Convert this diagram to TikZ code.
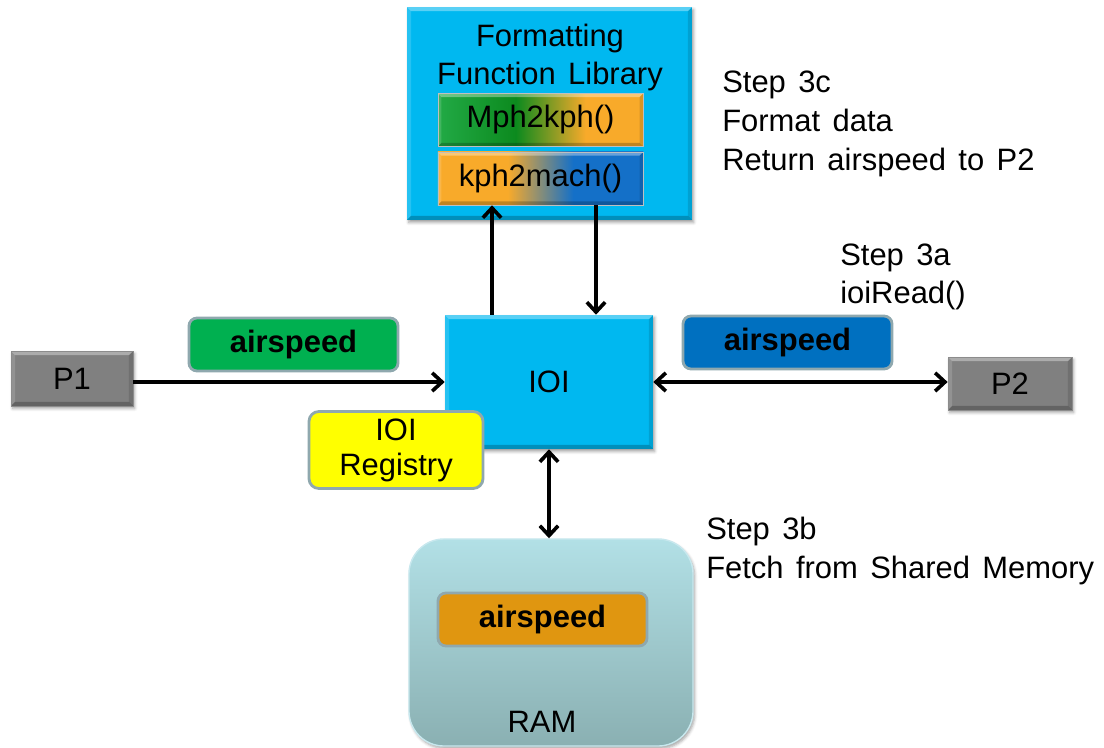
\documentclass[tikz,border=0pt]{standalone}
\usepackage{fontspec}
\setmainfont{Liberation Sans}
\usetikzlibrary{arrows.meta,shadows.blur}

% palette
\definecolor{boxcyan}{RGB}{0,184,240}
\definecolor{boxgray}{RGB}{128,128,128}
\definecolor{taggreen}{RGB}{0,176,80}
\definecolor{tagblue}{RGB}{0,112,192}
\definecolor{tagorange}{RGB}{224,150,16}
\definecolor{regyellow}{RGB}{255,255,0}
\definecolor{tagrim}{RGB}{143,168,174}
\definecolor{ramtop}{RGB}{178,224,230}
\definecolor{rambottom}{RGB}{138,176,178}
\definecolor{ramrim}{RGB}{200,232,238}
\definecolor{mphA}{RGB}{34,170,70}
\definecolor{mphB}{RGB}{12,138,30}
\definecolor{mphC}{RGB}{248,170,42}
\definecolor{kphB}{RGB}{20,112,200}

% left-to-right blends for the two function boxes
\pgfdeclarehorizontalshading{mphshade}{100bp}{color(0bp)=(mphA); color(25bp)=(mphA); color(44bp)=(mphB); color(61bp)=(mphC); color(100bp)=(mphC)}
\pgfdeclarehorizontalshading{kphshade}{100bp}{color(0bp)=(mphC); color(25bp)=(mphC); color(42bp)=(mphC); color(58bp)=(kphB); color(100bp)=(kphB)}

\newcommand\diagfont{\fontsize{22}{27.5}\selectfont\spaceskip=0.4em\relax}

\tikzset{
  bevel/.style={path picture={
    \fill[white,opacity=.35] (path picture bounding box.north west) -- (path picture bounding box.north east)
      -- ([shift={(-#1,-#1)}]path picture bounding box.north east) -- ([shift={(#1,-#1)}]path picture bounding box.north west) -- cycle;
    \fill[white,opacity=.15] (path picture bounding box.north west) -- (path picture bounding box.south west)
      -- ([shift={(#1,#1)}]path picture bounding box.south west) -- ([shift={(#1,-#1)}]path picture bounding box.north west) -- cycle;
    \fill[black,opacity=.22] (path picture bounding box.south west) -- (path picture bounding box.south east)
      -- ([shift={(-#1,#1)}]path picture bounding box.south east) -- ([shift={(#1,#1)}]path picture bounding box.south west) -- cycle;
    \fill[black,opacity=.12] (path picture bounding box.north east) -- (path picture bounding box.south east)
      -- ([shift={(-#1,#1)}]path picture bounding box.south east) -- ([shift={(-#1,-#1)}]path picture bounding box.north east) -- cycle;
  }},
  bevel/.default=3pt,
  softshadow/.style={blur shadow={shadow xshift=1.2pt, shadow yshift=-1.8pt, shadow blur radius=2pt, shadow opacity=35}},
  block/.style={fill=boxcyan, bevel, softshadow, inner sep=0pt, align=center},
  procbox/.style={fill=boxgray, draw=black!45, line width=.5pt, bevel, softshadow, inner sep=0pt},
  funcbox/.style={bevel=2.5pt, draw=black!25, line width=.4pt, minimum width=5.125cm, minimum height=1.325cm, inner sep=0pt},
  tag/.style={draw=tagrim, line width=2pt, rounded corners=0.2cm, minimum width=5.225cm, minimum height=1.325cm,
              inner sep=0pt, font=\diagfont\bfseries},
  conn/.style={line width=2.6pt, -{Straight Barb[length=7pt,width=13pt]}},
  biconn/.style={line width=2.6pt, {Straight Barb[length=7pt,width=13pt]}-{Straight Barb[length=7pt,width=13pt]}},
  note/.style={align=left, anchor=west, inner sep=0pt}
}

\begin{document}
\begin{tikzpicture}[x=0.025cm, y=-0.025cm, font=\diagfont]
\useasboundingbox (0,0) rectangle (1104,748);
\clip (0,0) rectangle (1104,748);

% function library with its two conversion routines
\node[block, minimum width=7.125cm, minimum height=5.325cm] (lib) at (549.5,113.5) {};
\node[inner sep=0pt, align=center] (libtitle) at (550,57.5) {Formatting\\Function Library};
\node[funcbox, shading=mphshade] (mph) at (540.5,120) {Mph2kph()};
\node[funcbox, shading=kphshade] (kph) at (540.5,178.5) {kph2mach()};

% interface object and processes
\node[block, minimum width=5.2cm, minimum height=3.35cm] (ioi) at (549,382) {IOI};
\node[procbox, minimum width=3.05cm, minimum height=1.375cm] (p1) at (72,378.5) {P1};
\node[procbox, minimum width=3.1cm, minimum height=1.325cm] (p2) at (1010,383.5) {P2};

% data tags
\node[tag, fill=taggreen] (asg) at (293.5,344.5) {airspeed};
\node[tag, fill=tagblue] (asb) at (787.5,342.5) {airspeed};
\node[draw=tagrim, line width=2pt, rounded corners=0.25cm, fill=regyellow, minimum width=4.35cm,
      minimum height=1.925cm, inner sep=0pt, align=center, font=\fontsize{22}{25}\selectfont] (reg) at (396,450) {IOI\\Registry};

% shared memory
\node[draw=ramrim, line width=1pt, rounded corners=0.875cm, top color=ramtop, bottom color=rambottom,
      softshadow, minimum width=7.1cm, minimum height=5.175cm] (ram) at (551,642.5) {};
\node[tag, fill=tagorange] (asr) at (542.5,619.5) {airspeed};
\node[inner sep=0pt] (ramlabel) at (542,722) {RAM};

% step annotations
\node[note] (s3c) at (722,124) {Step 3c\\Format data\\Return airspeed to P2};
\node[note] (s3a) at (840,277) {Step 3a\\ioiRead()};
\node[note] (s3b) at (706,551) {Step 3b\\Fetch from Shared Memory};

% connectors
\draw[conn] (p1.east |- ioi.west) -- (ioi.west);
\draw[biconn] (ioi.east) -- (p2.west |- ioi.east);
\draw[conn] ([xshift=-57*0.025cm]ioi.north) -- ([xshift=-57*0.025cm]ioi.north |- kph.south);
\draw[conn] ([xshift=47*0.025cm]ioi.north |- kph.south) -- ([xshift=47*0.025cm]ioi.north);
\draw[biconn] (ioi.south) -- (ioi.south |- ram.north);
\end{tikzpicture}
\end{document}
